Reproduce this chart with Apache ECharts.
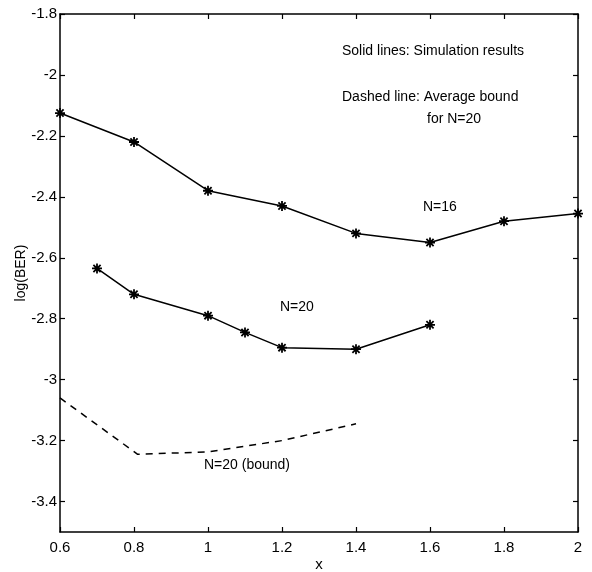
<!DOCTYPE html>
<html>
<head>
<meta charset="utf-8">
<script src="https://cdn.jsdelivr.net/npm/echarts@6/dist/echarts.min.js"></script>
<style>
  html, body { margin: 0; padding: 0; background: #fff; }
  #chart { width: 592px; height: 572px; }
</style>
</head>
<body>
<div id="chart"></div>
<script>
// values
var xN16 = [0.6, 0.8, 1.0, 1.2, 1.4, 1.6, 1.8, 2.0];
var yN16 = [-2.125, -2.22, -2.38, -2.43, -2.52, -2.55, -2.48, -2.455];

var xN20 = [0.7, 0.8, 1.0, 1.1, 1.2, 1.4, 1.6];
var yN20 = [-2.635, -2.72, -2.79, -2.845, -2.895, -2.9, -2.82];

var xBound = [0.6, 0.81, 1.0, 1.2, 1.4];
var yBound = [-3.06, -3.245, -3.237, -3.2, -3.145];

var xTicks = [0.6, 0.8, 1, 1.2, 1.4, 1.6, 1.8, 2];
var yTicks = [-3.4, -3.2, -3, -2.8, -2.6, -2.4, -2.2, -2, -1.8];

var font = 'Liberation Sans';
var textFont = '14px "Liberation Sans"';
var star = 'path://M0,-5L0,5M-5,0L5,0M-3.6,-3.6L3.6,3.6M-3.6,3.6L3.6,-3.6';

function pairs(xs, ys) {
    return xs.map(function (x, i) { return [x, ys[i]]; });
}

var chartDom = document.getElementById('chart');
var myChart = echarts.init(chartDom);

var tick = function (vals) {
    return { show: true, inside: true, length: 5, customValues: vals, lineStyle: { color: '#000', width: 1.2 } };
};
var line = { show: true, onZero: false, lineStyle: { color: '#000', width: 1.5 } };
var fmt = function (v) { return String(Math.round(v * 10) / 10); };

var option = {
    animation: false,
    backgroundColor: '#fff',
    grid: { left: 60, right: 14, top: 14, bottom: 40, outerBoundsMode: 'none', containLabel: false },
    xAxis: [
        {
            type: 'value', min: 0.6, max: 2,
            name: 'x', nameLocation: 'middle', nameGap: 25, nameMoveOverlap: false,
            nameTextStyle: { color: '#000', fontFamily: font, fontSize: 15 },
            axisLine: line,
            axisTick: tick(xTicks),
            axisLabel: { color: '#000', fontFamily: font, fontSize: 15, margin: 8, customValues: xTicks, formatter: fmt },
            splitLine: { show: false }
        },
        {
            type: 'value', min: 0.6, max: 2, position: 'top',
            axisLine: line, axisTick: tick(xTicks), axisLabel: { show: false }, splitLine: { show: false }
        }
    ],
    yAxis: [
        {
            type: 'value', min: -3.5, max: -1.8,
            name: 'log(BER)', nameLocation: 'middle', nameGap: 32, nameRotate: 90, nameMoveOverlap: false,
            nameTextStyle: { color: '#000', fontFamily: font, fontSize: 14 },
            axisLine: line,
            axisTick: tick(yTicks),
            axisLabel: { color: '#000', fontFamily: font, fontSize: 15, margin: 3, customValues: yTicks, formatter: fmt },
            splitLine: { show: false }
        },
        {
            type: 'value', min: -3.5, max: -1.8, position: 'right',
            axisLine: line, axisTick: tick(yTicks), axisLabel: { show: false }, splitLine: { show: false }
        }
    ],
    series: [
        {
            name: 'N=16', type: 'line', data: pairs(xN16, yN16),
            symbol: star, symbolSize: 10, showAllSymbol: true,
            lineStyle: { color: '#000', width: 1.5 },
            itemStyle: { color: '#000', borderColor: '#000', borderWidth: 1.8 }
        },
        {
            name: 'N=20', type: 'line', data: pairs(xN20, yN20),
            symbol: star, symbolSize: 10, showAllSymbol: true,
            lineStyle: { color: '#000', width: 1.5 },
            itemStyle: { color: '#000', borderColor: '#000', borderWidth: 1.8 }
        },
        {
            name: 'N=20 (bound)', type: 'line', data: pairs(xBound, yBound),
            symbol: 'none',
            lineStyle: { color: '#000', width: 1.5, type: [7, 6] }
        }
    ],
    graphic: [
        { type: 'text', left: 342, top: 44, style: { text: 'Solid lines: Simulation results', font: textFont, fill: '#000' } },
        { type: 'text', left: 342, top: 90, style: { text: 'Dashed line: Average bound', font: textFont, fill: '#000' } },
        { type: 'text', left: 427, top: 112, style: { text: 'for N=20', font: textFont, fill: '#000' } },
        { type: 'text', left: 423, top: 200, style: { text: 'N=16', font: textFont, fill: '#000' } },
        { type: 'text', left: 280, top: 300, style: { text: 'N=20', font: textFont, fill: '#000' } },
        { type: 'text', left: 204, top: 458, style: { text: 'N=20 (bound)', font: textFont, fill: '#000' } }
    ]
};

option && myChart.setOption(option);
</script>
</body>
</html>
